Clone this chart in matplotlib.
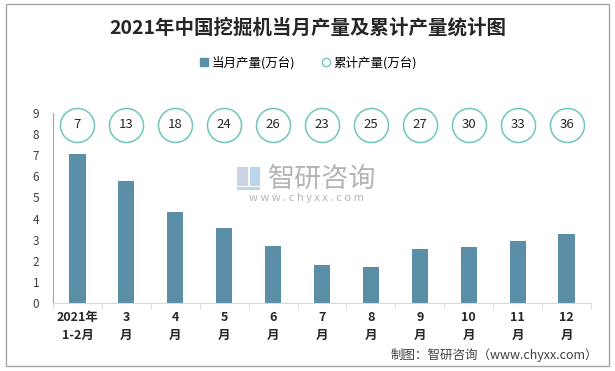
import numpy as np
import matplotlib.pyplot as plt
from matplotlib.lines import Line2D
from matplotlib.patches import Rectangle

plt.rcParams['font.family'] = ['Noto Sans CJK SC', 'DejaVu Sans']

# data
months = ['2021年\n1-2月', '3\n月', '4\n月', '5\n月', '6\n月', '7\n月',
          '8\n月', '9\n月', '10\n月', '11\n月', '12\n月']
monthly = [7.05, 5.78, 4.31, 3.55, 2.70, 1.80, 1.71, 2.56, 2.65, 2.94, 3.27]
cumulative = [7, 13, 18, 24, 26, 23, 25, 27, 30, 33, 36]

bar_color = '#5B8FA7'
ring_color = '#6FC6BC'

fig = plt.figure(figsize=(6.15, 3.71), dpi=100)
fig.patches.append(Rectangle((0.009, 0.013), 0.982, 0.975, transform=fig.transFigure,
                             fill=False, edgecolor='#A6A6A6', lw=1))

ax = fig.add_axes([0.0862, 0.1833, 0.8748, 0.5121])
x = np.arange(len(months))
ax.bar(x, monthly, width=0.33, color=bar_color, zorder=2)

# cumulative values shown as rings along the top
ring_y = 8.45
ax.plot(x, [ring_y] * len(x), 'o', ms=24.5, mfc='white', mec=ring_color, mew=1.1,
        ls='none', zorder=3, clip_on=False)
for xi, v in zip(x, cumulative):
    ax.text(xi, ring_y, str(v), ha='center', va='center', fontsize=9.5,
            color='#262626', zorder=4)

ax.set_xlim(-0.5, len(months) - 0.5)
ax.set_ylim(0, 9)
ax.set_yticks(range(0, 10))
ax.tick_params(axis='y', length=0, labelsize=8.5, colors='#404040', pad=10)
ax.set_xticks(x)
ax.set_xticklabels(months, fontsize=9, fontweight='bold', color='#262626',
                   linespacing=1.5)
ax.tick_params(axis='x', which='major', length=0, pad=6)
ax.set_xticks(np.arange(-0.5, len(months)), minor=True)
ax.tick_params(axis='x', which='minor', length=4, color='#D9D9D9')

for s in ['top', 'right']:
    ax.spines[s].set_visible(False)
ax.spines['left'].set_color('#A6A6A6')
ax.spines['bottom'].set_color('#D9D9D9')

# watermark (logo blocks + text)
for (lx, ly, lw_, lh, c) in [(0.386, 0.498, 0.017, 0.052, '#C9D3E3'),
                             (0.406, 0.498, 0.017, 0.052, '#B9D6EC'),
                             (0.386, 0.488, 0.037, 0.008, '#B9D6EC')]:
    fig.patches.append(Rectangle((lx, ly), lw_, lh, transform=fig.transFigure,
                                 color=c, lw=0, zorder=1))
fig.text(0.524, 0.5175, '智研咨询', fontsize=19.5, color='#B4B4B4', ha='center',
         va='center')
fig.text(0.499, 0.466, 'w w w . c h y x x . c o m', fontsize=8, color='#B4B4B4',
         ha='center', va='center')

fig.text(0.5, 0.925, '2021年中国挖掘机当月产量及累计产量统计图', fontsize=14,
         fontweight='bold', color='#262626', ha='center', va='center')

handles = [Line2D([], [], marker='s', ls='none', color=bar_color, ms=6),
           Line2D([], [], marker='o', ls='none', mfc='white', mec=ring_color, ms=6)]
fig.legend(handles, ['当月产量(万台)', '累计产量(万台)'], loc='center',
           bbox_to_anchor=(0.5, 0.832), ncol=2, frameon=False, fontsize=9,
           handletextpad=0.1, columnspacing=2.0, handlelength=1.0)

fig.text(0.972, 0.043, '制图：智研咨询（www.chyxx.com）', fontsize=9, color='#404040',
         ha='right', va='center')

fig.savefig('out.png', dpi=100)
